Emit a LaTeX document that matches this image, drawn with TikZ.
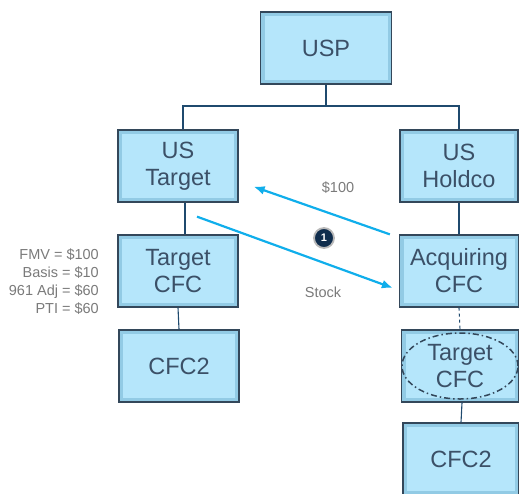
\documentclass[tikz,border=0pt]{standalone}
\usepackage{fontspec}
\setmainfont{Liberation Sans}
\usepackage{tikz}
\usetikzlibrary{arrows.meta,positioning,calc}

\definecolor{boxface}{HTML}{B5E6FB}
\definecolor{boxbevel}{HTML}{92CBE5}
\definecolor{boxedge}{HTML}{33475A}
\definecolor{boxtext}{HTML}{3B5067}
\definecolor{linknavy}{HTML}{1F4A6E}
\definecolor{flowcyan}{HTML}{10AEEB}
\definecolor{notegray}{HTML}{7A7A7A}
\definecolor{stepnavy}{HTML}{0F2D4D}

\begin{document}
\begin{tikzpicture}[x=1pt,y=-1pt,
	entity/.style={draw=boxedge, line width=1.3pt, fill=boxbevel, minimum width=120pt, minimum height=72pt, inner sep=0pt, align=center, text=boxtext, font=\fontsize{23.5}{27}\selectfont,
		path picture={\fill[boxface] ([shift={(4pt,-4pt)}]path picture bounding box.north west) rectangle ([shift={(-4pt,4pt)}]path picture bounding box.south east);}},
	link/.style={draw=linknavy, line width=1.1pt},
	flow/.style={draw=flowcyan, line width=2.2pt, -{Latex[length=11pt,width=9pt]}},
	note/.style={text=notegray, font=\fontsize{14.5}{18}\selectfont}]
		\useasboundingbox (0,0) rectangle (519,493);
		% owners
		\node[entity, minimum width=131pt] (usp) at (326,48) {USP};
		\node[entity] (ustarget) at (178,166) {US\\Target};
		\node[entity, minimum width=118pt] (usholdco) at (459,166) {US\\Holdco};
		% subsidiaries
		\node[entity] (tgtcfc) at (178,271) {Target\\CFC};
		\node[entity, minimum width=119pt] (acqcfc) at (459,271) {Acquiring\\CFC};
		\node[entity] (cfctwo) at (179,366) {CFC2};
		\node[entity, minimum width=117pt] (tgtcfcnew) at (460,366) {Target\\CFC};
		\node[entity, minimum width=116pt] (cfctwonew) at (461,459) {CFC2};
		\draw[boxedge, line width=1.5pt, dash pattern=on 6pt off 3pt on 1.5pt off 3pt] (tgtcfcnew.center) ellipse (58pt and 33pt);
		% ownership lines
		\coordinate (bus) at (326,106);
		\draw[link] (usp.south) -- (bus);
		\draw[link] (bus) -| ([xshift=5pt]ustarget.north);
		\draw[link] (bus) -| (usholdco.north);
		\draw[link] ([xshift=7pt]ustarget.south) -- ([xshift=7pt]tgtcfc.north);
		\draw[link] (usholdco.south) -- (acqcfc.north);
		\draw[link] (tgtcfc.south) -- (cfctwo.north);
		\draw[link, dashed] (acqcfc.south) -- (tgtcfcnew.north);
		\draw[link] ([xshift=2pt]tgtcfcnew.south) -- (cfctwonew.north);
		% exchange
		\draw[flow] ([xshift=-9pt]acqcfc.north west) -- ([xshift=15pt,yshift=16pt]ustarget.south east);
		\draw[flow] ([xshift=19pt,yshift=-14pt]ustarget.south) -- ([xshift=-6pt,yshift=-17pt]acqcfc.west);
		\node[note] (cash) at (338,188) {\$100};
		\node[note] (stock) at (323,292) {Stock};
		\node[circle, fill=stepnavy, draw=gray!55, line width=1.8pt, inner sep=0pt, minimum size=20pt, text=white, font=\fontsize{11}{11}\selectfont\bfseries] (stepone) at (324,238) {1};
		\node[note, align=right, anchor=east] (tgtinfo) at ([xshift=-15pt,yshift=-11pt]tgtcfc.west) {FMV = \$100\\Basis = \$10\\961 Adj = \$60\\PTI = \$60};
\end{tikzpicture}
\end{document}
